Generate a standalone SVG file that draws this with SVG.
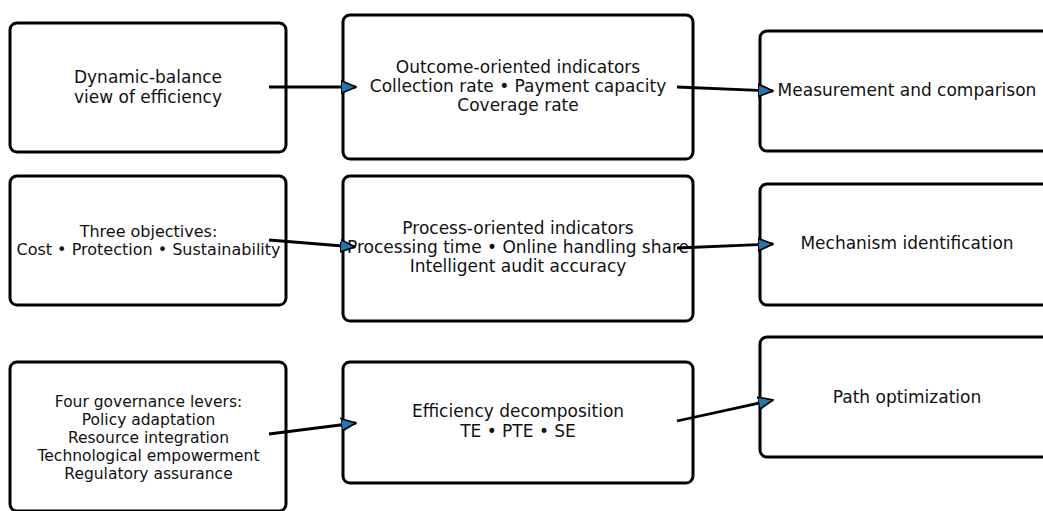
<svg xmlns="http://www.w3.org/2000/svg" width="1043" height="511" viewBox="0 0 1043 511">
<style>
.box{fill:#fff;stroke:#000;stroke-width:3}
.t{font-family:"DejaVu Sans",sans-serif;font-size:17px;fill:#111;text-anchor:middle}
.conn{stroke:#000;stroke-width:2.8;fill:none;marker-end:url(#ah)}
</style>
<defs>
<marker id="ah" markerUnits="userSpaceOnUse" markerWidth="16" markerHeight="16" viewBox="0 -7 14 14" refX="13" refY="0" orient="auto">
<path d="M0,-5.5 L13,0 L0,5.5 Z" fill="#1f77b4" stroke="#000" stroke-width="1.5" stroke-linejoin="miter"/>
</marker>
</defs>
<rect width="1043" height="511" fill="#fff"/>
<g id="n1"><rect class="box" x="10" y="23" width="276" height="129" rx="7"/><text class="t" x="148" y="83">Dynamic-balance</text><text class="t" x="148" y="103">view of efficiency</text></g>
<g id="n2"><rect class="box" x="343" y="15" width="350" height="144" rx="7"/><text class="t" x="518" y="73">Outcome-oriented indicators</text><text class="t" x="518" y="92">Collection rate • Payment capacity</text><text class="t" x="518" y="111">Coverage rate</text></g>
<g id="n3"><rect class="box" x="760" y="31" width="300" height="120" rx="7"/><text class="t" x="907" y="96">Measurement and comparison</text></g>
<g id="n4"><rect class="box" x="10" y="176" width="276" height="129" rx="7"/><text class="t" x="148.5" y="237" style="font-size:16px">Three objectives:</text><text class="t" x="148.5" y="255" style="font-size:16px">Cost • Protection • Sustainability</text></g>
<g id="n5"><rect class="box" x="343" y="176" width="350" height="145" rx="7"/><text class="t" x="518" y="234">Process-oriented indicators</text><text class="t" x="518" y="253">Processing time • Online handling share</text><text class="t" x="518" y="272">Intelligent audit accuracy</text></g>
<g id="n6"><rect class="box" x="760" y="184" width="300" height="121" rx="7"/><text class="t" x="907" y="249">Mechanism identification</text></g>
<g id="n7"><rect class="box" x="10" y="362" width="276" height="149" rx="7"/><text class="t" x="148.5" y="407" style="font-size:15.5px">Four governance levers:</text><text class="t" x="148.5" y="425" style="font-size:15.5px">Policy adaptation</text><text class="t" x="148.5" y="443" style="font-size:15.5px">Resource integration</text><text class="t" x="148.5" y="461" style="font-size:15.5px">Technological empowerment</text><text class="t" x="148.5" y="479" style="font-size:15.5px">Regulatory assurance</text></g>
<g id="n8"><rect class="box" x="343" y="362" width="350" height="121" rx="7"/><text class="t" x="518" y="417">Efficiency decomposition</text><text class="t" x="518" y="437">TE • PTE • SE</text></g>
<g id="n9"><rect class="box" x="760" y="337" width="300" height="120" rx="7"/><text class="t" x="907" y="403">Path optimization</text></g>
<g id="connectors">
<path class="conn" d="M269,87 L356,87"/>
<path class="conn" d="M677,87 L773,91"/>
<path class="conn" d="M269,240 L355,247"/>
<path class="conn" d="M677,248 L773,244"/>
<path class="conn" d="M269,434 L356,423"/>
<path class="conn" d="M677,421 L773,400"/>
</g>
</svg>
